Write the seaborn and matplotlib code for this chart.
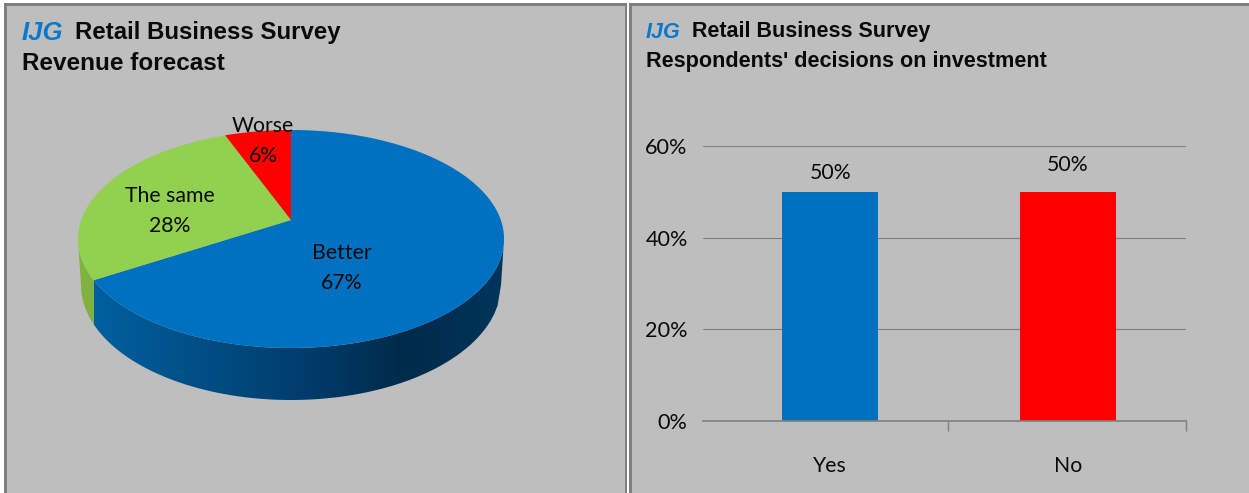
import numpy as np
import pandas as pd
import matplotlib
matplotlib.use("Agg")
import matplotlib.pyplot as plt
from matplotlib.colors import LinearSegmentedColormap
from matplotlib.patches import Polygon
import seaborn as sns

# Survey results
pie_labels = ["Better", "The same", "Worse"]
pie_values = [67, 28, 6]
bar_labels = ["Yes", "No"]
bar_values = [50, 50]
y_ticks = [0, 20, 40, 60]
brand = "IJG"
survey = "Retail Business Survey"
left_subtitle = "Revenue forecast"
right_subtitle = "Respondents' decisions on investment"

BG = "#BEBEBE"
BLUE = "#0070C0"
BRAND_BLUE = "#0A78CC"
GREEN = "#92D050"
RED = "#FF0000"
GREY = "#808080"
INK = "#0A0A0A"

sns.set_style("white")
plt.rcParams["font.family"] = ["Lato", "DejaVu Sans"]
W, H = 1249, 493
fig = plt.figure(figsize=(W / 100, H / 100), dpi=100, facecolor=BG)

# Full-figure canvas measured in pixels, y pointing down
canvas = fig.add_axes([0, 0, 1, 1])
canvas.set_xlim(0, W)
canvas.set_ylim(H, 0)
canvas.axis("off")

# Panel frames
canvas.fill_between([0, W], 0, 3, color="white", lw=0)
canvas.fill_between([0, 4], 0, H, color="white", lw=0)
canvas.fill_between([4, W], 3, 6, color=GREY, lw=0)
canvas.fill_between([4, 7], 3, H, color=GREY, lw=0)
canvas.fill_between([625, 632], 3, H, color=GREY, lw=0)
canvas.fill_between([627.5, 628.7], 0, H, color="white", lw=0)

# Pie in perspective: the unit disc is projected so its centre sits above the rim ellipse's centre
CX, CY = 291, 220
FOCAL = 38 / 218
XS = 209.8
YS = 105.7
# Lower outline of the disc's wall
FLOOR_CY, FLOOR_RX, FLOOR_RY = 285, 210, 115


def project(theta):
    """Map clockwise-from-top angles on the unit disc to canvas pixels."""
    u, v = np.sin(theta), np.cos(theta)
    den = 1 + FOCAL * v
    return CX + XS * u / den, CY - YS * v / den


def floor_arc(x_from, x_to, n=120):
    """Points of the wall's lower outline between two canvas x positions."""
    x = np.linspace(x_from, x_to, n)
    return x, FLOOR_CY + FLOOR_RY * np.sqrt(np.clip(1 - ((x - CX) / FLOOR_RX) ** 2, 0, 1))


fractions = np.array(pie_values, dtype=float) / np.sum(pie_values)
edges = np.concatenate([[0], np.cumsum(fractions)]) * 2 * np.pi
colors = [BLUE, GREEN, RED]
right_extreme = np.pi / 2 + np.arcsin(FOCAL)
left_extreme = 3 * np.pi / 2 - np.arcsin(FOCAL)
split_x = project(edges[1])[0]

# Outer wall of the disc, shaded from left to right
wall_cmap = LinearSegmentedColormap.from_list(
    "wall", [(0, "#00609F"), (0.5, "#003E6E"), (0.76, "#002A4A"), (1, "#00355A")]
)
rx, ry = project(np.linspace(right_extreme, edges[1], 200))
fx, fy = floor_arc(split_x, CX + FLOOR_RX)
wall_patch = Polygon(np.column_stack([np.r_[rx, fx], np.r_[ry, fy]]), closed=True,
                     transform=canvas.transData, fc="none", ec="none")
canvas.add_patch(wall_patch)
grad = np.linspace(0, 1, 256).reshape(1, -1)
img = canvas.imshow(grad, cmap=wall_cmap, extent=[92, 504, 420, 200], aspect="auto", zorder=1)
img.set_clip_path(wall_patch)
canvas.set_xlim(0, W)
canvas.set_ylim(H, 0)

# Green part of the wall, visible on the near left only
sx, sy = project(np.linspace(edges[1], left_extreme, 60))
fx, fy = floor_arc(CX - FLOOR_RX, split_x)
canvas.fill(np.r_[sx, fx], np.r_[sy, fy], color="#7FB23F", lw=0, zorder=1)

# Top face of each slice
for start, stop, colour in zip(edges[:-1], edges[1:], colors):
    x, y = project(np.linspace(start, stop, 200))
    canvas.fill(np.r_[CX, x], np.r_[CY, y], color=colour, lw=0, zorder=2)

# Slice captions
slice_font = dict(ha="center", va="center", fontsize=15.3, color=INK, zorder=3, linespacing=1.68)
caption_anchor = [(342, 268), (170, 211), (263, 141)]
for name, val, (px, py) in zip(pie_labels, pie_values, caption_anchor):
    canvas.text(px, py, f"{name}\n{val}%", **slice_font)

# Headings
head = dict(family="Liberation Sans", weight="bold", va="center", color=INK)
mark = dict(family="Liberation Sans", style="italic", weight="bold", va="center", color=BRAND_BLUE)
canvas.text(22, 33, brand, fontsize=18.5, **mark)
canvas.text(75, 33, survey, fontsize=17.3, **head)
canvas.text(22, 64, left_subtitle, fontsize=17.5, **head)
canvas.text(646, 32, brand, fontsize=15.5, **mark)
canvas.text(692, 32, survey, fontsize=15.5, **head)
canvas.text(646, 62, right_subtitle, fontsize=15.6, **head)

# Bar chart panel
ax = fig.add_axes([703 / W, 1 - 421 / H, (1186 - 703) / W, (421 - 146) / H], facecolor="none")
frame = pd.DataFrame({"answer": bar_labels, "share": bar_values})
sns.barplot(
    data=frame, x="answer", y="share", hue="answer",
    palette=[BLUE, RED], width=0.404, legend=False, ax=ax, saturation=1, linewidth=0,
)
ax.set_xlim(-0.535, 1.497)
ax.set_ylim(0, 60)
ax.set_xlabel("")
ax.set_ylabel("")
ax.set_yticks(y_ticks)
ax.set_yticklabels([f"{v}%" for v in y_ticks])
ax.set_axisbelow(True)
ax.grid(axis="y", color=GREY, lw=0.8)
ax.grid(axis="x", visible=False)
for name in ("top", "right", "left"):
    ax.spines[name].set_visible(False)
ax.spines["bottom"].set_color(GREY)
ax.spines["bottom"].set_linewidth(1.2)
ax.tick_params(axis="y", length=0, pad=11, labelsize=15.6, labelcolor=INK)
ax.set_xticks([0, 1])
ax.set_xticklabels(bar_labels)
ax.set_xticks([0.497, 1.497], minor=True)
ax.tick_params(axis="x", which="major", length=0, pad=25, labelsize=15.3, labelcolor=INK)
ax.tick_params(axis="x", which="minor", bottom=True, length=7.5, width=1, color=GREY)

# Value captions sit at slightly different heights above each bar
for i, (val, rise) in enumerate(zip(bar_values, [19, 27])):
    ax.annotate(f"{val}%", (i, val), xytext=(0, rise * 0.72), textcoords="offset points",
                ha="center", va="center", fontsize=15.3, color=INK)

fig.savefig("out.png", dpi=100, facecolor=BG)
